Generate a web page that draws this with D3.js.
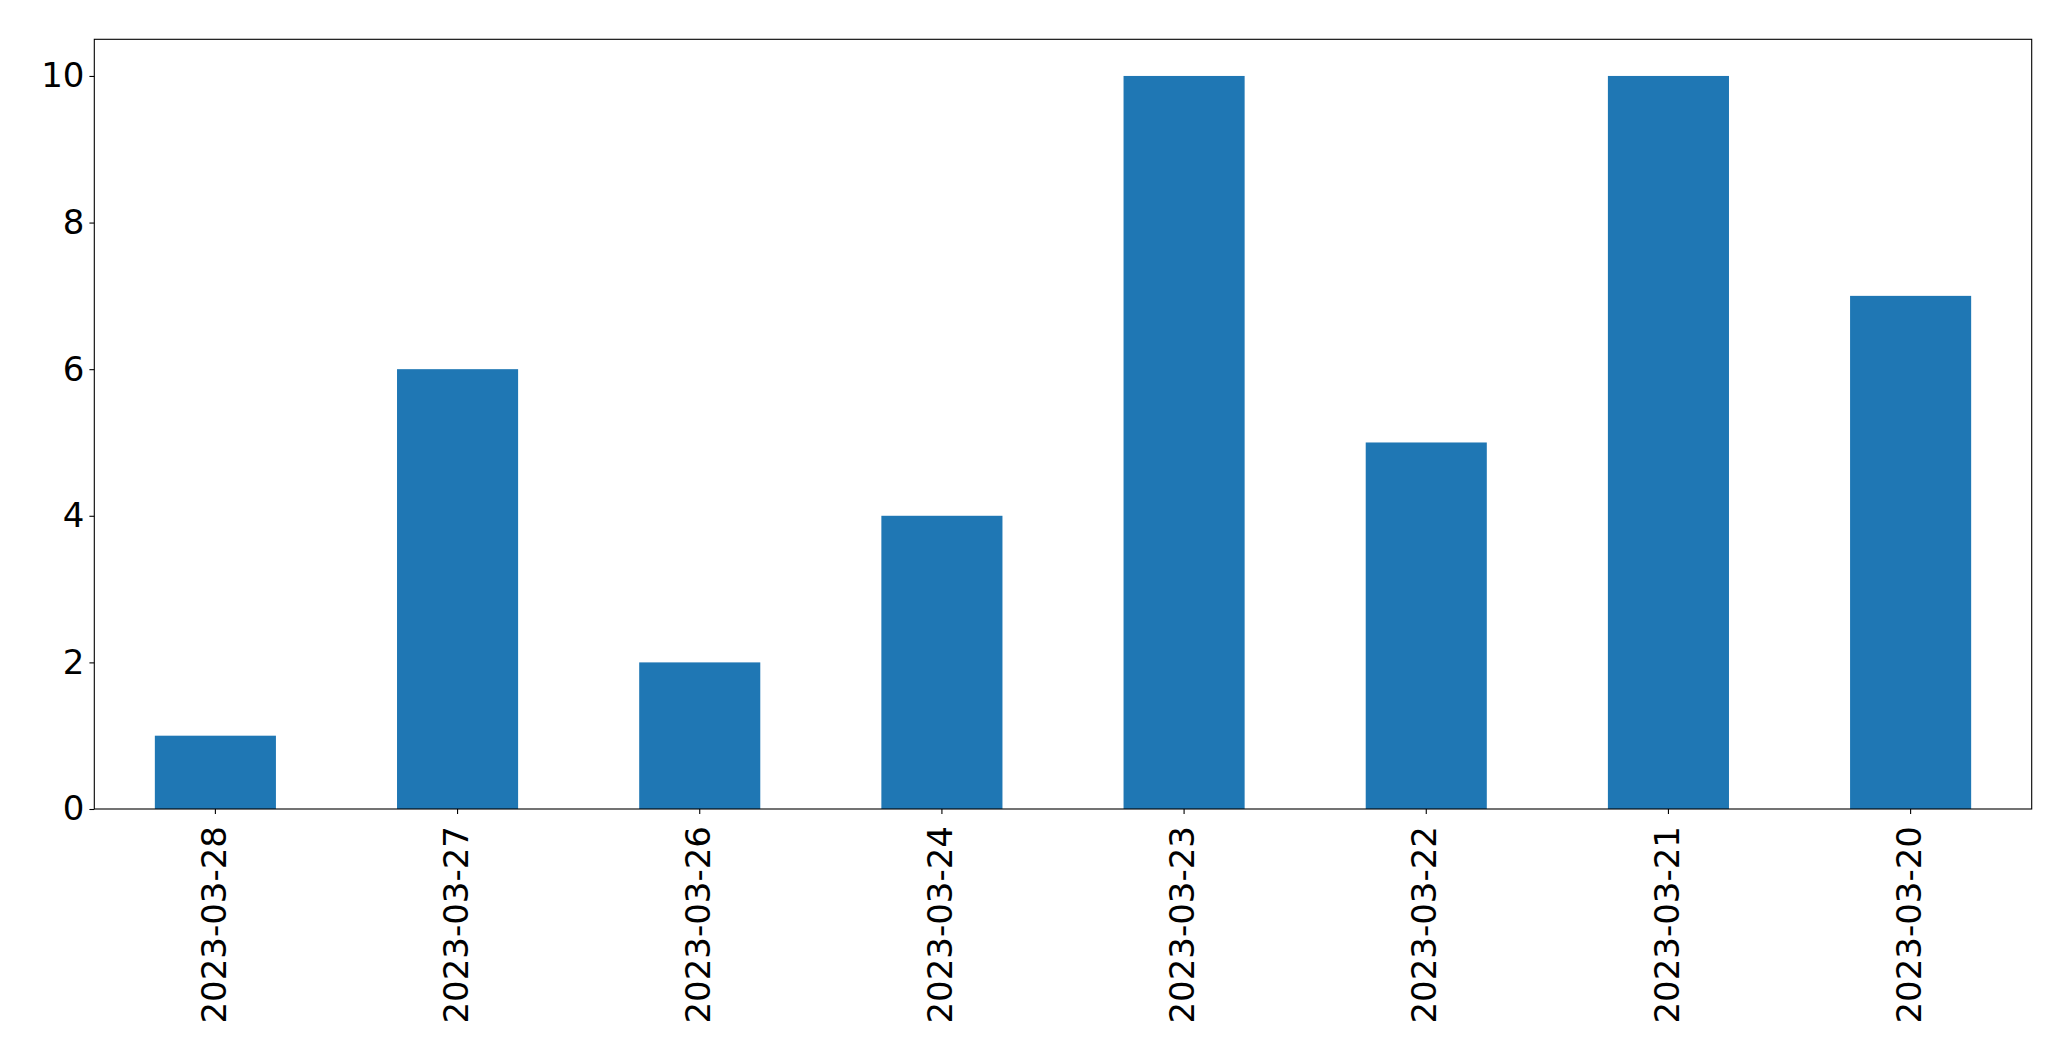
<!DOCTYPE html>
<html>
<head>
<meta charset="utf-8">
<script src="https://cdn.jsdelivr.net/npm/d3@7"></script>
<style>
  html, body { margin: 0; padding: 0; background: #fff; }
  svg { display: block; }
  text { font-family: "DejaVu Sans", sans-serif; fill: #000; }
</style>
</head>
<body>
<script>
const categories = ["2023-03-28","2023-03-27","2023-03-26","2023-03-24","2023-03-23","2023-03-22","2023-03-21","2023-03-20"];
const values = [1, 6, 2, 4, 10, 5, 10, 7];
const yTicks = [0, 2, 4, 6, 8, 10];

const W = 2071, H = 1061;
const m = {left: 94.3, right: 2071 - 2031.7, top: 39.3, bottom: 1061 - 809};
const fs = 34;

const svg = d3.select("body").append("svg").attr("width", W).attr("height", H);

const x = d3.scaleBand().domain(categories).range([m.left, W - m.right])
  .paddingInner(0.5).paddingOuter(0.25);
const y = d3.scaleLinear().domain([0, 10.5]).range([H - m.bottom, m.top]);

svg.append("g").selectAll("rect").data(values).join("rect")
  .attr("x", (d, i) => x(categories[i]))
  .attr("width", x.bandwidth())
  .attr("y", d => y(d))
  .attr("height", d => y(0) - y(d))
  .attr("fill", "#1f77b4");

// frame
svg.append("rect")
  .attr("x", m.left).attr("y", m.top)
  .attr("width", W - m.right - m.left).attr("height", H - m.bottom - m.top)
  .attr("fill", "none").attr("stroke", "#000").attr("stroke-width", 1.1);

// y axis
const yAxis = svg.append("g").attr("transform", `translate(${m.left},0)`)
  .call(d3.axisLeft(y).tickValues(yTicks).tickSize(4.9).tickPadding(4.9).tickFormat(d3.format("d")));
yAxis.select(".domain").remove();
yAxis.selectAll(".tick line").attr("stroke", "#000").attr("stroke-width", 1.1);
yAxis.selectAll(".tick text").attr("font-size", fs).attr("font-family", "DejaVu Sans").attr("fill", "#000");

// x axis
const xAxis = svg.append("g").attr("transform", `translate(0,${H - m.bottom})`)
  .call(d3.axisBottom(x).tickSize(4.9).tickPadding(4.9));
xAxis.select(".domain").remove();
xAxis.selectAll(".tick line").attr("stroke", "#000").attr("stroke-width", 1.1);
xAxis.selectAll(".tick text")
  .attr("font-size", fs).attr("font-family", "DejaVu Sans").attr("fill", "#000")
  .attr("text-anchor", "end")
  .attr("x", 0).attr("y", 0).attr("dy", "0.3em")
  .attr("transform", "translate(0,17) rotate(-90)");
</script>
</body>
</html>
